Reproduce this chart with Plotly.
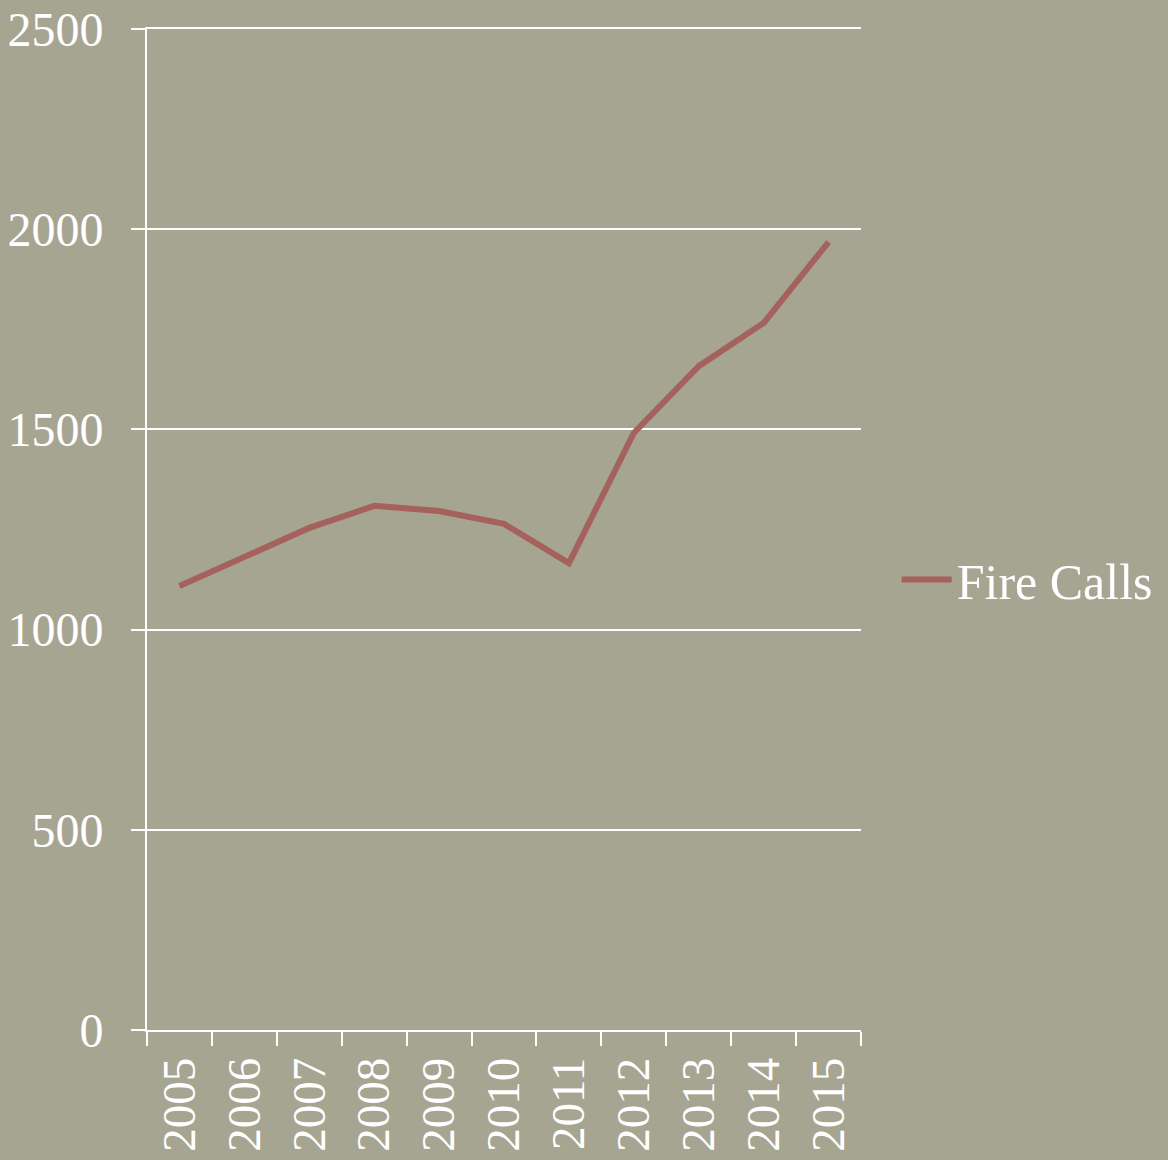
import plotly.graph_objects as go

years = ["2005", "2006", "2007", "2008", "2009", "2010", "2011", "2012", "2013", "2014", "2015"]
fire_calls = [1109, 1181, 1254, 1309, 1296, 1264, 1166, 1491, 1658, 1766, 1968]
y_ticks = [0, 500, 1000, 1500, 2000, 2500]

FONT = "Liberation Serif"
BG = "#a6a592"
WHITE = "#ffffff"

fig = go.Figure()
fig.add_trace(go.Scatter(
    x=years, y=fire_calls, mode="lines", name="Fire Calls",
    line=dict(color="#a5615c", width=6),
))

fig.update_layout(
    width=1168, height=1160,
    paper_bgcolor=BG, plot_bgcolor=BG,
    margin=dict(l=147, r=307, t=29, b=130, autoexpand=False),
    font=dict(family=FONT, color=WHITE, size=48),
    showlegend=True,
    legend=dict(x=1.05, y=0.45, xanchor="left", yanchor="middle",
                bgcolor="rgba(0,0,0,0)", font=dict(size=50, family=FONT, color=WHITE),
                itemwidth=50),
)
fig.update_xaxes(
    type="category", range=[-0.5, len(years) - 0.5], automargin=False,
    tickson="boundaries", ticks="outside", ticklen=14, mirror=True,
    tickwidth=2, tickcolor=WHITE, showline=True, linecolor=WHITE, linewidth=2,
    showgrid=False, tickangle=-90, tickfont=dict(size=47, family=FONT, color=WHITE),
    ticklabelstandoff=7, fixedrange=True,
)
fig.update_yaxes(
    range=[0, 2500], tickvals=y_ticks, ticks="outside", ticklen=14, tickwidth=2,
    automargin=False,
    tickcolor=WHITE, showline=True, linecolor=WHITE, linewidth=2,
    showgrid=True, gridcolor=WHITE, gridwidth=2, zeroline=False,
    tickfont=dict(size=48, family=FONT, color=WHITE), ticklabelstandoff=18,
)

fig.write_html("out.html", config={"displayModeBar": False},
               post_script="document.body.style.margin='0';document.body.style.background='%s';" % BG)
